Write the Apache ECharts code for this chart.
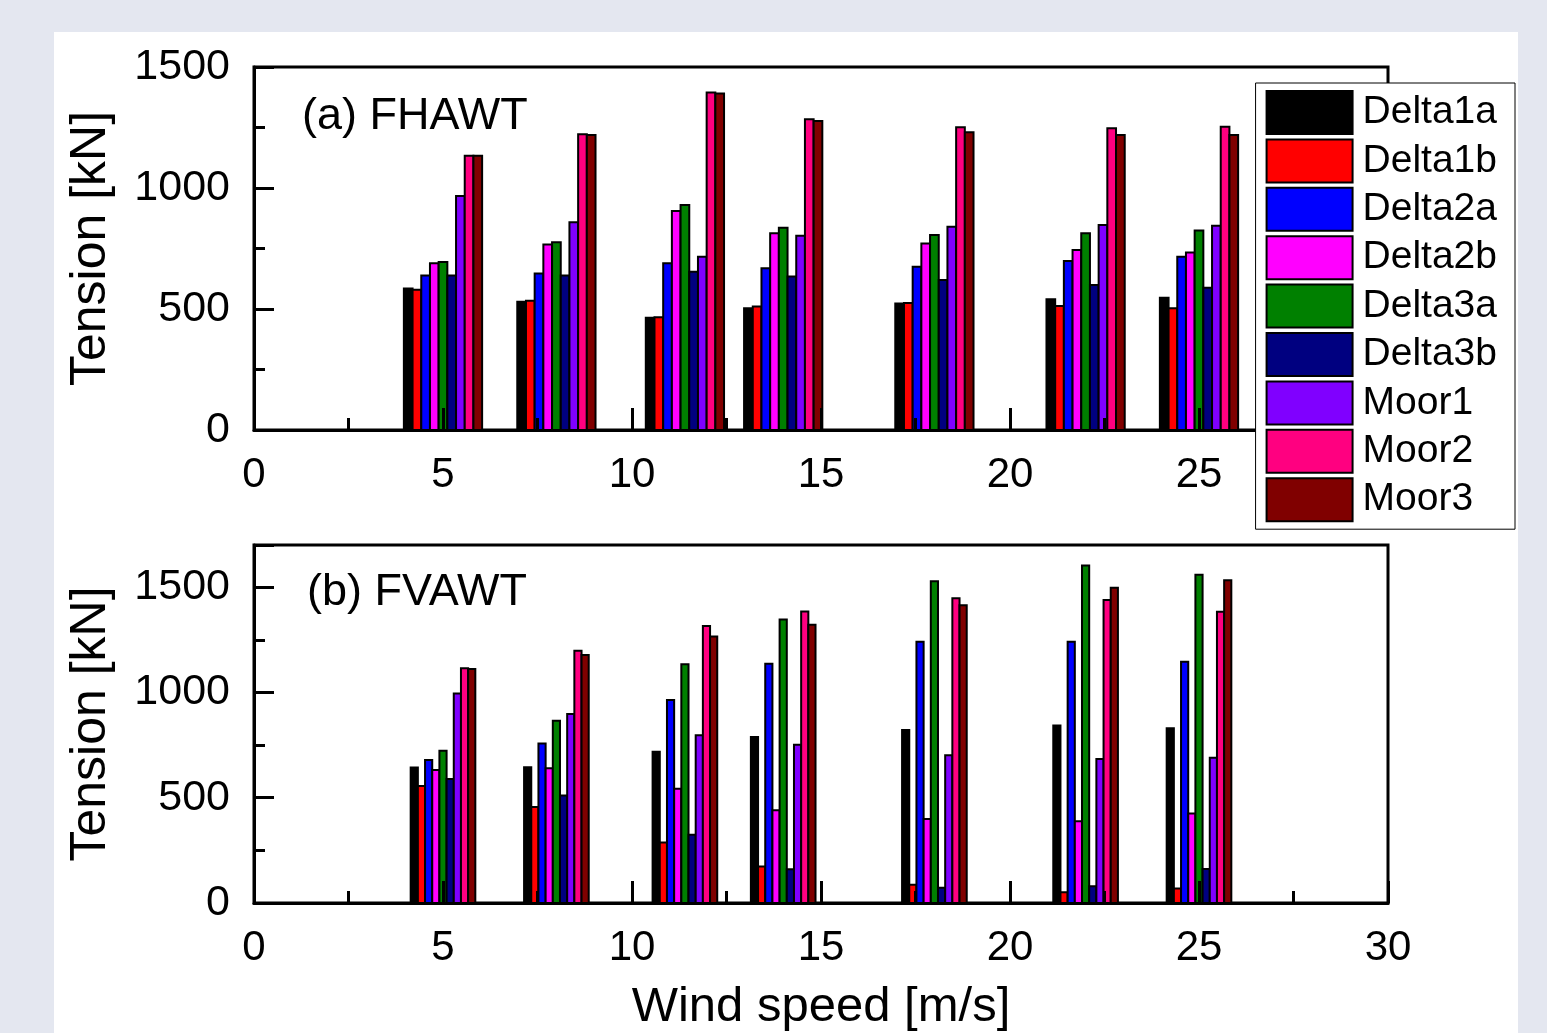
<!DOCTYPE html>
<html>
<head>
<meta charset="utf-8">
<title>Mooring tension</title>
<script src="https://cdn.jsdelivr.net/npm/echarts@6/dist/echarts.min.js"></script>
<style>
  html, body { margin: 0; padding: 0; background: #e4e7f0; }
  #paper { position: absolute; left: 54px; top: 32px; width: 1464px; height: 1001px; background: #fff; }
  #main { position: absolute; left: 0; top: 0; width: 1547px; height: 1033px; }
</style>
</head>
<body>
<div id="paper"></div>
<div id="main"></div>
<script>
// wind speeds of the load cases [m/s]
const windSpeeds = [5, 8, 11.4, 14, 18, 22, 25];
const lineNames = ['Delta1a', 'Delta1b', 'Delta2a', 'Delta2b', 'Delta3a', 'Delta3b', 'Moor1', 'Moor2', 'Moor3'];
const lineColors = ['#000000', '#ff0000', '#0000ff', '#ff00ff', '#008000', '#000080', '#8000ff', '#ff0080', '#800000'];
const xTicks = [0, 5, 10, 15, 20, 25, 30];
const yTicks = [0, 500, 1000, 1500];

// (a) FHAWT, tension [kN]
const fhDelta1a = [585, 530, 464, 503, 523, 540, 547];
const fhDelta1b = [580, 534, 466, 510, 525, 512, 503];
const fhDelta2a = [638, 647, 689, 668, 675, 698, 716];
const fhDelta2b = [689, 767, 905, 813, 771, 744, 733];
const fhDelta3a = [694, 776, 930, 836, 806, 813, 824];
const fhDelta3b = [638, 638, 654, 634, 620, 599, 588];
const fhMoor1 = [967, 858, 716, 803, 840, 847, 844];
const fhMoor2 = [1133, 1222, 1395, 1284, 1251, 1247, 1253];
const fhMoor3 = [1133, 1219, 1391, 1277, 1230, 1219, 1219];

// (b) FVAWT, tension [kN]
const fvDelta1a = [643, 645, 718, 788, 822, 843, 830];
const fvDelta1b = [555, 456, 287, 173, 87, 51, 69];
const fvDelta2a = [679, 757, 964, 1136, 1240, 1240, 1146];
const fvDelta2b = [632, 640, 542, 441, 399, 388, 425];
const fvDelta3a = [723, 866, 1134, 1346, 1528, 1603, 1559];
const fvDelta3b = [589, 511, 324, 160, 72, 79, 162];
const fvMoor1 = [995, 897, 796, 752, 702, 684, 690];
const fvMoor2 = [1115, 1198, 1315, 1384, 1447, 1439, 1383];
const fvMoor3 = [1111, 1178, 1266, 1321, 1414, 1497, 1533];

const fhawt = [fhDelta1a, fhDelta1b, fhDelta2a, fhDelta2b, fhDelta3a, fhDelta3b, fhMoor1, fhMoor2, fhMoor3];
const fvawt = [fvDelta1a, fvDelta1b, fvDelta2a, fvDelta2b, fvDelta3a, fvDelta3b, fvMoor1, fvMoor2, fvMoor3];

const FONT = '"Liberation Sans", Arial, "DejaVu Sans", sans-serif';

// one bar of a group of 9, placed around the wind speed
function barRenderer(idx, barW) {
  return function (params, api) {
    const x = api.value(0) + (idx - 4) * barW;
    const p1 = api.coord([x - barW / 2, api.value(1)]);
    const p2 = api.coord([x + barW / 2, 0]);
    return {
      type: 'rect',
      shape: { x: p1[0], y: p1[1], width: p2[0] - p1[0], height: p2[1] - p1[1] },
      style: { fill: api.visual('color'), stroke: '#000', lineWidth: 2 }
    };
  };
}

function xAxisOpt(grid, withName) {
  return {
    gridIndex: grid, type: 'value', min: 0, max: 30, interval: 5, z: 3,
    name: withName ? 'Wind speed [m/s]' : '',
    nameLocation: 'middle', nameGap: 80,
    nameTextStyle: { fontSize: 49, color: '#000', fontFamily: FONT },
    axisLine: { lineStyle: { color: '#000', width: 3 } },
    axisTick: { inside: true, length: 22, lineStyle: { color: '#000', width: 3 } },
    minorTick: { show: true, splitNumber: 2, length: 12, lineStyle: { color: '#000', width: 3 } },
    splitLine: { show: false },
    axisLabel: {
      margin: 24, fontSize: 42, color: '#000', fontFamily: FONT,
      formatter: v => xTicks.indexOf(v) >= 0 ? String(v) : ''
    }
  };
}

function yAxisOpt(grid, max) {
  return {
    gridIndex: grid, type: 'value', min: 0, max: max, interval: 500,
    name: 'Tension [kN]', nameLocation: 'middle', nameGap: 138,
    nameTextStyle: { fontSize: 50, color: '#000', fontFamily: FONT },
    axisLine: { show: true, lineStyle: { color: '#000', width: 3 } },
    axisTick: { inside: true, length: 20, lineStyle: { color: '#000', width: 3 } },
    minorTick: { show: true, splitNumber: 2, length: 11, lineStyle: { color: '#000', width: 3 } },
    splitLine: { show: false },
    axisLabel: {
      margin: 24, fontSize: 43, color: '#000', fontFamily: FONT, showMaxLabel: max === 1500,
      formatter: v => yTicks.indexOf(v) >= 0 ? String(v) : ''
    }
  };
}

const series = [];
[[fhawt, 0, 0.23], [fvawt, 1, 0.19]].forEach(([set, g, w]) => {
  set.forEach((vals, i) => {
    series.push({
      name: lineNames[i],
      type: 'custom',
      xAxisIndex: g, yAxisIndex: g,
      itemStyle: { color: lineColors[i] },
      renderItem: barRenderer(i, w),
      encode: { x: 0, y: 1 },
      data: windSpeeds.map((s, k) => [s, vals[k]])
    });
  });
});

const chart = echarts.init(document.getElementById('main'), null, { renderer: 'canvas' });
chart.setOption({
  animation: false,
  backgroundColor: 'transparent',
  textStyle: { fontFamily: FONT },
  title: [
    { text: '(a) FHAWT', left: 297, top: 89, textStyle: { fontSize: 45, fontWeight: 'normal', color: '#000', fontFamily: FONT } },
    { text: '(b) FVAWT', left: 302, top: 565, textStyle: { fontSize: 45, fontWeight: 'normal', color: '#000', fontFamily: FONT } }
  ],
  grid: [
    { left: 254, top: 67, width: 1134, height: 363, show: true, borderColor: '#000', borderWidth: 3, backgroundColor: 'transparent' },
    { left: 254, top: 545, width: 1134, height: 362, show: true, borderColor: '#000', borderWidth: 3, backgroundColor: 'transparent' }
  ],
  xAxis: [xAxisOpt(0, false), xAxisOpt(1, true)],
  yAxis: [yAxisOpt(0, 1500), yAxisOpt(1, 1700)],
  legend: {
    orient: 'vertical', right: 32, top: 83, z: 10,
    backgroundColor: '#fff', borderColor: '#000', borderWidth: 1,
    padding: [7, 18, 7, 10],
    itemWidth: 86, itemHeight: 43, itemGap: 3.4,
    icon: 'rect',
    itemStyle: { borderColor: '#000', borderWidth: 2 },
    textStyle: { fontSize: 39, color: '#000', fontFamily: FONT, lineHeight: 43, padding: [0, 0, 0, 5] },
    data: lineNames.map((n, i) => ({ name: n, itemStyle: { color: lineColors[i], borderColor: '#000', borderWidth: 2 } }))
  },
  series: series
});
</script>
</body>
</html>
